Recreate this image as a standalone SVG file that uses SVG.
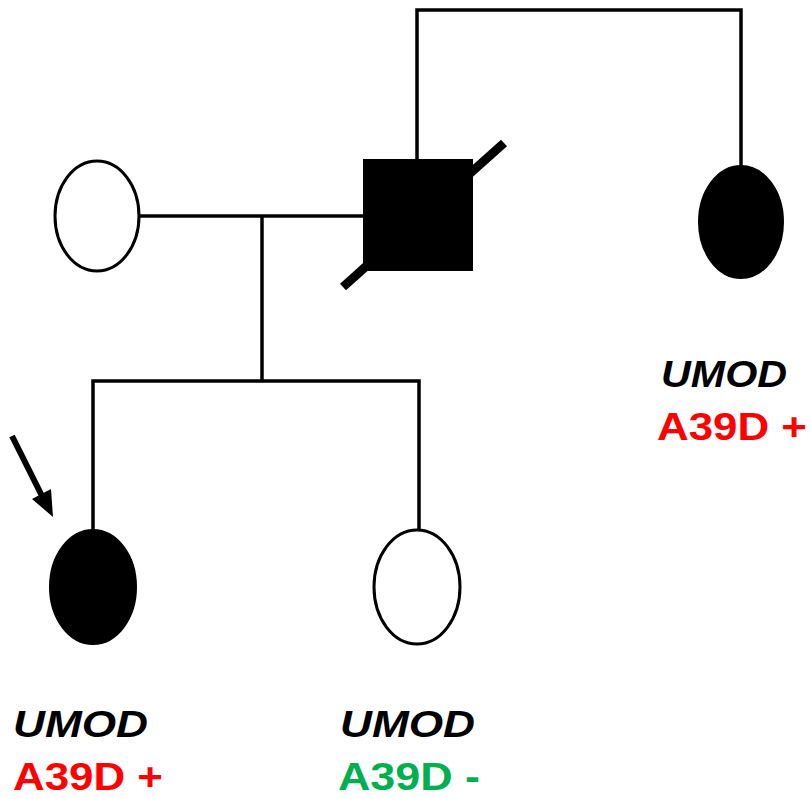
<svg xmlns="http://www.w3.org/2000/svg" width="811" height="799" viewBox="0 0 811 799">
<style>
.ln{stroke:#000;stroke-width:3.5;fill:none}
.f{fill:#000;stroke:#000;stroke-width:2}
.o{fill:#fff;stroke:#000;stroke-width:3}
.g{font-family:"Liberation Sans",Arial,sans-serif;font-weight:bold;font-style:italic;font-size:37px;fill:#000}
.m{font-family:"Liberation Sans",Arial,sans-serif;font-weight:bold;font-size:39px}
</style>
<rect width="811" height="799" fill="#fff"/>
<g id="connectors">
<polyline class="ln" points="417,159 417,10 741,10 741,166"/>
<line class="ln" x1="139" y1="216" x2="363" y2="216"/>
<line class="ln" x1="262" y1="216" x2="262" y2="381"/>
<polyline class="ln" points="93,529 93,381 419,381 419,530"/>
</g>
<g id="father">
<rect x="363" y="159" width="110" height="112" fill="#000"/>
<line x1="343" y1="287" x2="504" y2="143" stroke="#000" stroke-width="9"/>
</g>
<g id="mother"><ellipse class="o" cx="97" cy="216" rx="42" ry="55"/></g>
<g id="aunt">
<ellipse class="f" cx="741" cy="222" rx="42" ry="56"/>
<text class="g" x="661" y="387" textLength="126" lengthAdjust="spacingAndGlyphs">UMOD</text>
<text class="m" x="657" y="440" fill="#f00" textLength="150" lengthAdjust="spacingAndGlyphs">A39D +</text>
</g>
<g id="proband">
<ellipse class="f" cx="93" cy="587" rx="43" ry="57"/>
<line x1="12" y1="436" x2="42" y2="496" stroke="#000" stroke-width="6"/>
<polygon points="53,517 32,499 51,489" fill="#000"/>
<text class="g" x="13" y="737" textLength="135" lengthAdjust="spacingAndGlyphs">UMOD</text>
<text class="m" x="13" y="790" fill="#f00" textLength="150" lengthAdjust="spacingAndGlyphs">A39D +</text>
</g>
<g id="sister">
<ellipse class="o" cx="417" cy="587" rx="43" ry="57"/>
<text class="g" x="340" y="737" textLength="135" lengthAdjust="spacingAndGlyphs">UMOD</text>
<text class="m" x="338" y="790" fill="#00b050" textLength="142" lengthAdjust="spacingAndGlyphs">A39D -</text>
</g>
</svg>
